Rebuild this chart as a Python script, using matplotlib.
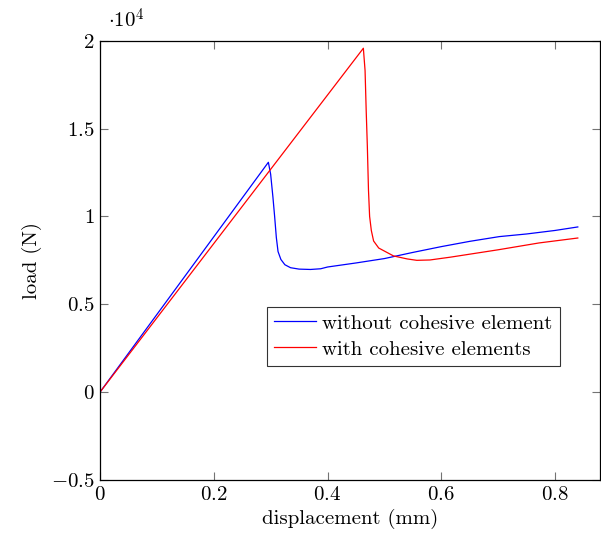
import matplotlib
matplotlib.use("Agg")
import matplotlib.pyplot as plt

# displacement (mm) / load (1e4 N)
BLUE_X = [0.0, 0.296, 0.300, 0.304, 0.307, 0.310, 0.313, 0.318, 0.325, 0.335,
          0.350, 0.370, 0.388, 0.40, 0.45, 0.50, 0.55, 0.60, 0.65, 0.702,
          0.75, 0.80, 0.84]
BLUE_Y = [0.0, 1.308, 1.24, 1.11, 1.0, 0.88, 0.80, 0.755, 0.725, 0.708,
          0.700, 0.698, 0.702, 0.712, 0.735, 0.76, 0.795, 0.828, 0.858, 0.885,
          0.900, 0.920, 0.94]

RED_X = [0.0, 0.463, 0.466, 0.468, 0.470, 0.472, 0.474, 0.477, 0.481, 0.49,
         0.516, 0.54, 0.557, 0.58, 0.616, 0.70, 0.772, 0.84]
RED_Y = [0.0, 1.957, 1.83, 1.6, 1.4, 1.15, 1.0, 0.92, 0.86, 0.82,
         0.775, 0.758, 0.750, 0.752, 0.768, 0.81, 0.849, 0.877]

X_TICKS = [0, 0.2, 0.4, 0.6, 0.8]
X_LABELS = ['0', '0.2', '0.4', '0.6', '0.8']
Y_TICKS = [-0.5, 0, 0.5, 1, 1.5, 2]
Y_LABELS = ['-0.5', '0', '0.5', '1', '1.5', '2']

plt.rcParams['font.family'] = 'cmr10'
plt.rcParams['mathtext.fontset'] = 'cm'
plt.rcParams['axes.unicode_minus'] = False

FS = 15


def main():
    fig = plt.figure(figsize=(6.01, 5.41), dpi=100)
    ax = fig.add_axes([0.1664, 0.1128, 0.8319, 0.812])

    ax.plot(BLUE_X, BLUE_Y, color='#0000ff', lw=0.9, label='without cohesive element')
    ax.plot(RED_X, RED_Y, color='#ff0000', lw=0.9, label='with cohesive elements')

    ax.set_xlim(0, 0.879)
    ax.set_ylim(-0.5, 2)
    ax.set_xticks(X_TICKS)
    ax.set_xticklabels(['$' + s + '$' for s in X_LABELS])
    ax.set_yticks(Y_TICKS)
    ax.set_yticklabels(['$' + s + '$' for s in Y_LABELS])
    ax.tick_params(direction='in', length=6, width=0.8, color='0.45',
                   top=True, right=True, labelsize=FS, pad=4)
    for s in ax.spines.values():
        s.set_linewidth(0.9)

    ax.set_xlabel('displacement (mm)', fontsize=FS, labelpad=4)
    ax.set_ylabel('load (N)', fontsize=FS, labelpad=6)
    ax.text(0.015, 1.02, r'$\cdot 10^4$', transform=ax.transAxes, fontsize=FS,
            ha='left', va='bottom')

    leg = ax.legend(loc='upper left', bbox_to_anchor=(0.334, 0.394), fontsize=FS,
                    frameon=True, fancybox=False, edgecolor='black',
                    handlelength=2.0, handletextpad=0.3, borderpad=0.35,
                    labelspacing=0.35, borderaxespad=0)
    leg.get_frame().set_linewidth(0.8)

    fig.savefig('out.png', dpi=100)


if __name__ == "__main__":
    main()
